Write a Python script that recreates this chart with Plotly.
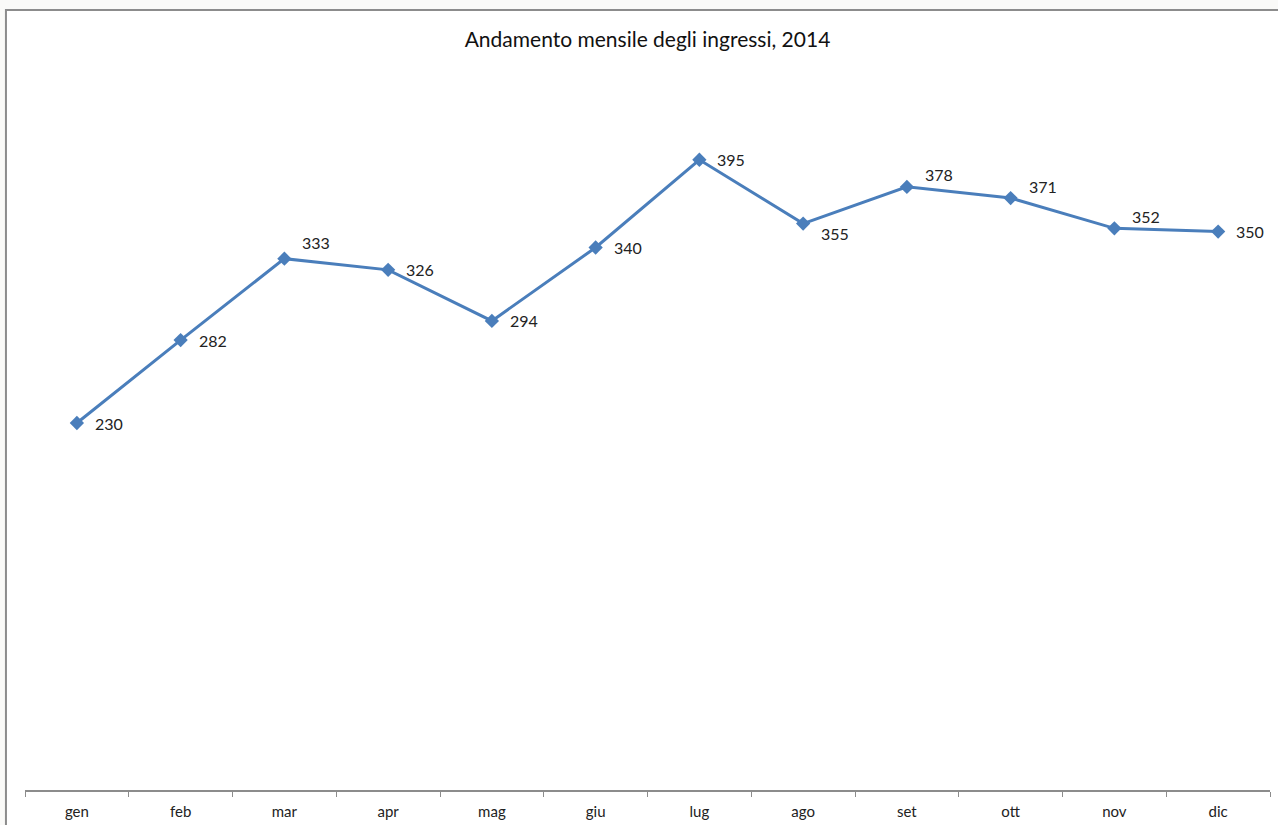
import plotly.graph_objects as go

months = ["gen", "feb", "mar", "apr", "mag", "giu", "lug", "ago", "set", "ott", "nov", "dic"]
ingressi = [230, 282, 333, 326, 294, 340, 395, 355, 378, 371, 352, 350]

# vertical nudge of each value label (pixels, positive = up)
label_shift = [0, 0, 16, 0, 0, 0, 0, -10, 12, 12, 12, 0]

LINE_BLUE = "#4A7EBB"
FONT = "Lato, 'DejaVu Sans', sans-serif"

fig = go.Figure()
fig.add_trace(go.Scatter(
    x=months,
    y=ingressi,
    mode="lines+markers",
    line=dict(color=LINE_BLUE, width=3),
    marker=dict(symbol="diamond", size=11, color=LINE_BLUE),
    hoverinfo="x+y",
    showlegend=False,
))

for m, v, dy in zip(months, ingressi, label_shift):
    fig.add_annotation(
        x=m, y=v, text=str(v), showarrow=False,
        xanchor="left", yanchor="middle", xshift=16, yshift=dy,
        font=dict(family=FONT, size=16, color="#222222"),
    )

# chart frame: white area with a grey border on an off-white page
fig.add_shape(
    type="rect", xref="paper", yref="paper",
    x0=-0.0153, x1=1.05, y0=-0.2, y1=1.0864,
    fillcolor="white", line=dict(color="#8c8c8c", width=2), layer="below",
)

fig.update_layout(
    width=1278, height=825,
    margin=dict(l=25, r=8, t=72, b=35),
    paper_bgcolor="#fafaf8",
    plot_bgcolor="rgba(0,0,0,0)",
    title=dict(
        text="Andamento mensile degli ingressi, 2014",
        x=0.5, xref="paper", y=1 - 40 / 825, yref="container",
        xanchor="center", yanchor="middle",
        font=dict(family=FONT, size=21, color="#111111"),
    ),
    xaxis=dict(
        type="category", range=[-0.5, 11.5], automargin=False,
        showline=True, linecolor="#8c8c8c", linewidth=2,
        ticks="outside", tickson="boundaries", ticklen=5, tickcolor="#8c8c8c",
        ticklabelstandoff=7,
        tickfont=dict(family=FONT, size=15, color="#222222"),
        showgrid=False, zeroline=False,
    ),
    yaxis=dict(
        range=[0, 450], visible=False, showgrid=False, zeroline=False,
    ),
)

fig.write_html("out.html")
